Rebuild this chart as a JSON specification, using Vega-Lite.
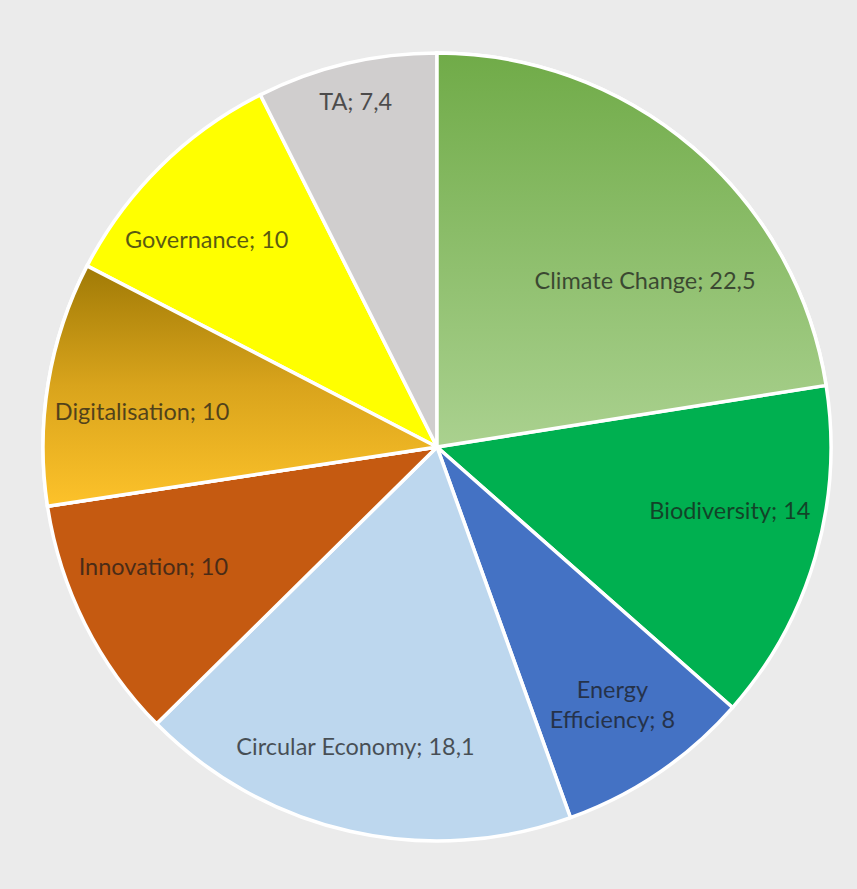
{
  "$schema": "https://vega.github.io/schema/vega-lite/v6.json",
  "autosize": {"type": "fit", "contains": "padding"},
  "width": 857,
  "height": 889,
  "padding": {"left": 17, "top": 5, "right": 0, "bottom": 0},
  "background": "#ebebeb",
  "config": {"view": {"stroke": null}},
  "data": {"values": [
    {"category": "Climate Change", "value": 22.5, "label": "Climate Change; 22,5", "order": 1},
    {"category": "Biodiversity", "value": 14, "label": "Biodiversity; 14", "order": 2},
    {"category": "Energy Efficiency", "value": 8, "label": "Energy\nEfficiency; 8", "order": 3},
    {"category": "Circular Economy", "value": 18.1, "label": "Circular Economy; 18,1", "order": 4},
    {"category": "Innovation", "value": 10, "label": "Innovation; 10", "order": 5},
    {"category": "Digitalisation", "value": 10, "label": "Digitalisation; 10", "order": 6},
    {"category": "Governance", "value": 10, "label": "Governance; 10", "order": 7},
    {"category": "TA", "value": 7.4, "label": "TA; 7,4", "order": 8}
  ]},
  "transform": [
    {"stack": "value", "groupby": [], "sort": [{"field": "order", "order": "ascending"}], "as": ["start", "end"]},
    {"calculate": "(datum.start + datum.end) / 2", "as": "mid"}
  ],
  "layer": [
    {
      "mark": {"type": "arc", "outerRadius": 394, "stroke": "#ffffff", "strokeWidth": 3.5},
      "encoding": {
        "theta": {"field": "start", "type": "quantitative", "stack": null, "scale": {"domain": [0, 100]}},
        "theta2": {"field": "end"},
        "color": {
          "field": "category", "type": "nominal", "legend": null,
          "scale": {
            "domain": ["Climate Change", "Biodiversity", "Energy Efficiency", "Circular Economy", "Innovation", "Digitalisation", "Governance", "TA"],
            "range": ["#8cbf68", "#00b050", "#4472c4", "#bdd7ee", "#c55a11", "#e0a820", "#ffff00", "#d0cece"]
          }
        }
      }
    },
    {
      "transform": [{"filter": "datum.category === 'Climate Change'"}],
      "mark": {"type": "arc", "outerRadius": 394, "stroke": "#ffffff", "strokeWidth": 3.5,
        "fill": {"gradient": "linear", "x1": 0, "y1": 0, "x2": 0, "y2": 1,
          "stops": [{"offset": 0, "color": "#70ab48"}, {"offset": 1, "color": "#aad18f"}]}},
      "encoding": {
        "theta": {"field": "start", "type": "quantitative", "stack": null, "scale": {"domain": [0, 100]}},
        "theta2": {"field": "end"}
      }
    },
    {
      "transform": [{"filter": "datum.category === 'Digitalisation'"}],
      "mark": {"type": "arc", "outerRadius": 394, "stroke": "#ffffff", "strokeWidth": 3.5,
        "fill": {"gradient": "linear", "x1": 0, "y1": 0, "x2": 0, "y2": 1,
          "stops": [{"offset": 0, "color": "#a07a06"}, {"offset": 0.5, "color": "#d9a41c"}, {"offset": 1, "color": "#fdc22a"}]}},
      "encoding": {
        "theta": {"field": "start", "type": "quantitative", "stack": null, "scale": {"domain": [0, 100]}},
        "theta2": {"field": "end"}
      }
    },
    {
      "transform": [{"filter": "datum.category === 'Climate Change'"}],
      "mark": {"type": "text", "radius": 265, "dx": 36, "dy": 37, "font": "Lato", "fontSize": 23.5, "fill": "#1a1a1a", "opacity": 0.72, "align": "center", "baseline": "middle"},
      "encoding": {
        "theta": {"field": "mid", "type": "quantitative", "stack": null, "scale": {"domain": [0, 100]}},
        "text": {"field": "label"}
      }
    },
    {
      "transform": [{"filter": "datum.category === 'Biodiversity'"}],
      "mark": {"type": "text", "radius": 305, "dx": 0, "dy": -20, "font": "Lato", "fontSize": 23.5, "fill": "#1a1a1a", "opacity": 0.72, "align": "center", "baseline": "middle"},
      "encoding": {
        "theta": {"field": "mid", "type": "quantitative", "stack": null, "scale": {"domain": [0, 100]}},
        "text": {"field": "label"}
      }
    },
    {
      "transform": [{"filter": "datum.category === 'Energy Efficiency'"}],
      "mark": {"type": "text", "radius": 305, "dx": 4, "dy": -8, "font": "Lato", "fontSize": 23.5, "fill": "#1a1a1a", "opacity": 0.72, "align": "center", "baseline": "middle", "lineBreak": "\n", "lineHeight": 30},
      "encoding": {
        "theta": {"field": "mid", "type": "quantitative", "stack": null, "scale": {"domain": [0, 100]}},
        "text": {"field": "label"}
      }
    },
    {
      "transform": [{"filter": "datum.category === 'Circular Economy'"}],
      "mark": {"type": "text", "radius": 305, "dx": -14, "dy": 4, "font": "Lato", "fontSize": 23.5, "fill": "#1a1a1a", "opacity": 0.72, "align": "center", "baseline": "middle"},
      "encoding": {
        "theta": {"field": "mid", "type": "quantitative", "stack": null, "scale": {"domain": [0, 100]}},
        "text": {"field": "label"}
      }
    },
    {
      "transform": [{"filter": "datum.category === 'Innovation'"}],
      "mark": {"type": "text", "radius": 305, "dx": -11, "dy": -16, "font": "Lato", "fontSize": 23.5, "fill": "#1a1a1a", "opacity": 0.72, "align": "center", "baseline": "middle"},
      "encoding": {
        "theta": {"field": "mid", "type": "quantitative", "stack": null, "scale": {"domain": [0, 100]}},
        "text": {"field": "label"}
      }
    },
    {
      "transform": [{"filter": "datum.category === 'Digitalisation'"}],
      "mark": {"type": "text", "radius": 305, "dx": 6, "dy": 16, "font": "Lato", "fontSize": 23.5, "fill": "#1a1a1a", "opacity": 0.72, "align": "center", "baseline": "middle"},
      "encoding": {
        "theta": {"field": "mid", "type": "quantitative", "stack": null, "scale": {"domain": [0, 100]}},
        "text": {"field": "label"}
      }
    },
    {
      "transform": [{"filter": "datum.category === 'Governance'"}],
      "mark": {"type": "text", "radius": 305, "dx": -16, "dy": 11, "font": "Lato", "fontSize": 23.5, "fill": "#1a1a1a", "opacity": 0.72, "align": "center", "baseline": "middle"},
      "encoding": {
        "theta": {"field": "mid", "type": "quantitative", "stack": null, "scale": {"domain": [0, 100]}},
        "text": {"field": "label"}
      }
    },
    {
      "transform": [{"filter": "datum.category === 'TA'"}],
      "mark": {"type": "text", "radius": 353, "font": "Lato", "fontSize": 23.5, "fill": "#1a1a1a", "opacity": 0.72, "align": "center", "baseline": "middle"},
      "encoding": {
        "theta": {"field": "mid", "type": "quantitative", "stack": null, "scale": {"domain": [0, 100]}},
        "text": {"field": "label"}
      }
    }
  ]
}
